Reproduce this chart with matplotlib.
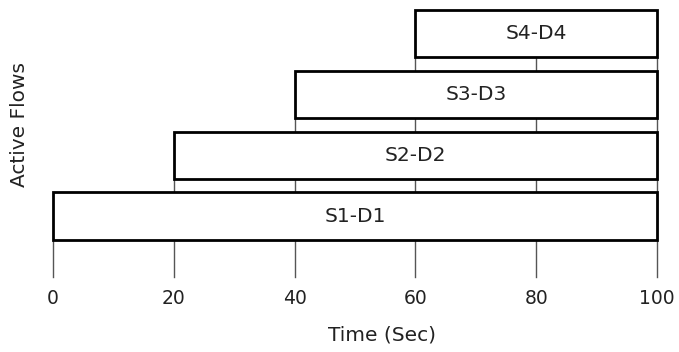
import matplotlib
matplotlib.use("Agg")
import matplotlib.pyplot as plt

flows = ["S1-D1", "S2-D2", "S3-D3", "S4-D4"]
starts = [0, 20, 40, 60]
ends = [100, 100, 100, 100]
xticks = [0, 20, 40, 60, 80, 100]

plt.rcParams['font.family'] = ['DejaVu Sans']

fig = plt.figure(figsize=(6.79, 3.52), dpi=100)
ax = fig.add_axes([53/679, 0.2131, 604/679, 0.7688])

ypos = list(range(1, len(flows) + 1))
h = 0.78
widths = [e - s for s, e in zip(starts, ends)]
bars = ax.barh(ypos, widths, left=starts, height=h, color='white',
               edgecolor='black', linewidth=2.0, zorder=3)
for b in bars:
    b.set_clip_on(False)
for y, s, e, name in zip(ypos, starts, ends, flows):
    ax.text((s + e) / 2, y, name, ha='center', va='center',
            fontsize=14.5, color='#222222', zorder=4)

# vertical guide lines up to the bottom of the top-most bar covering each tick
for t in xticks:
    covering = [y for y, s, e in zip(ypos, starts, ends) if s <= t <= e]
    top = (max(covering) - h / 2) if covering else 4.45
    ax.plot([t, t], [0, top], color='#555555', linewidth=1.0, zorder=1,
            clip_on=False)

ax.set_xlim(0, 100)
ax.set_ylim(0, 4.45)
ax.set_xticks(xticks)
ax.set_xticklabels([str(t) for t in xticks])
ax.set_yticks([])
ax.tick_params(axis='x', length=0, pad=9, labelsize=13.5, colors='#222222')
for sp in ax.spines.values():
    sp.set_visible(False)

ax.set_xlabel("Time (Sec)", fontsize=14.5, color='#222222')
ax.xaxis.set_label_coords(0.545, -0.18)
ax.set_ylabel("Active Flows", fontsize=14.5, color='#222222')
ax.yaxis.set_label_coords(-0.04, 0.562)

fig.savefig("out.png", dpi=100)
